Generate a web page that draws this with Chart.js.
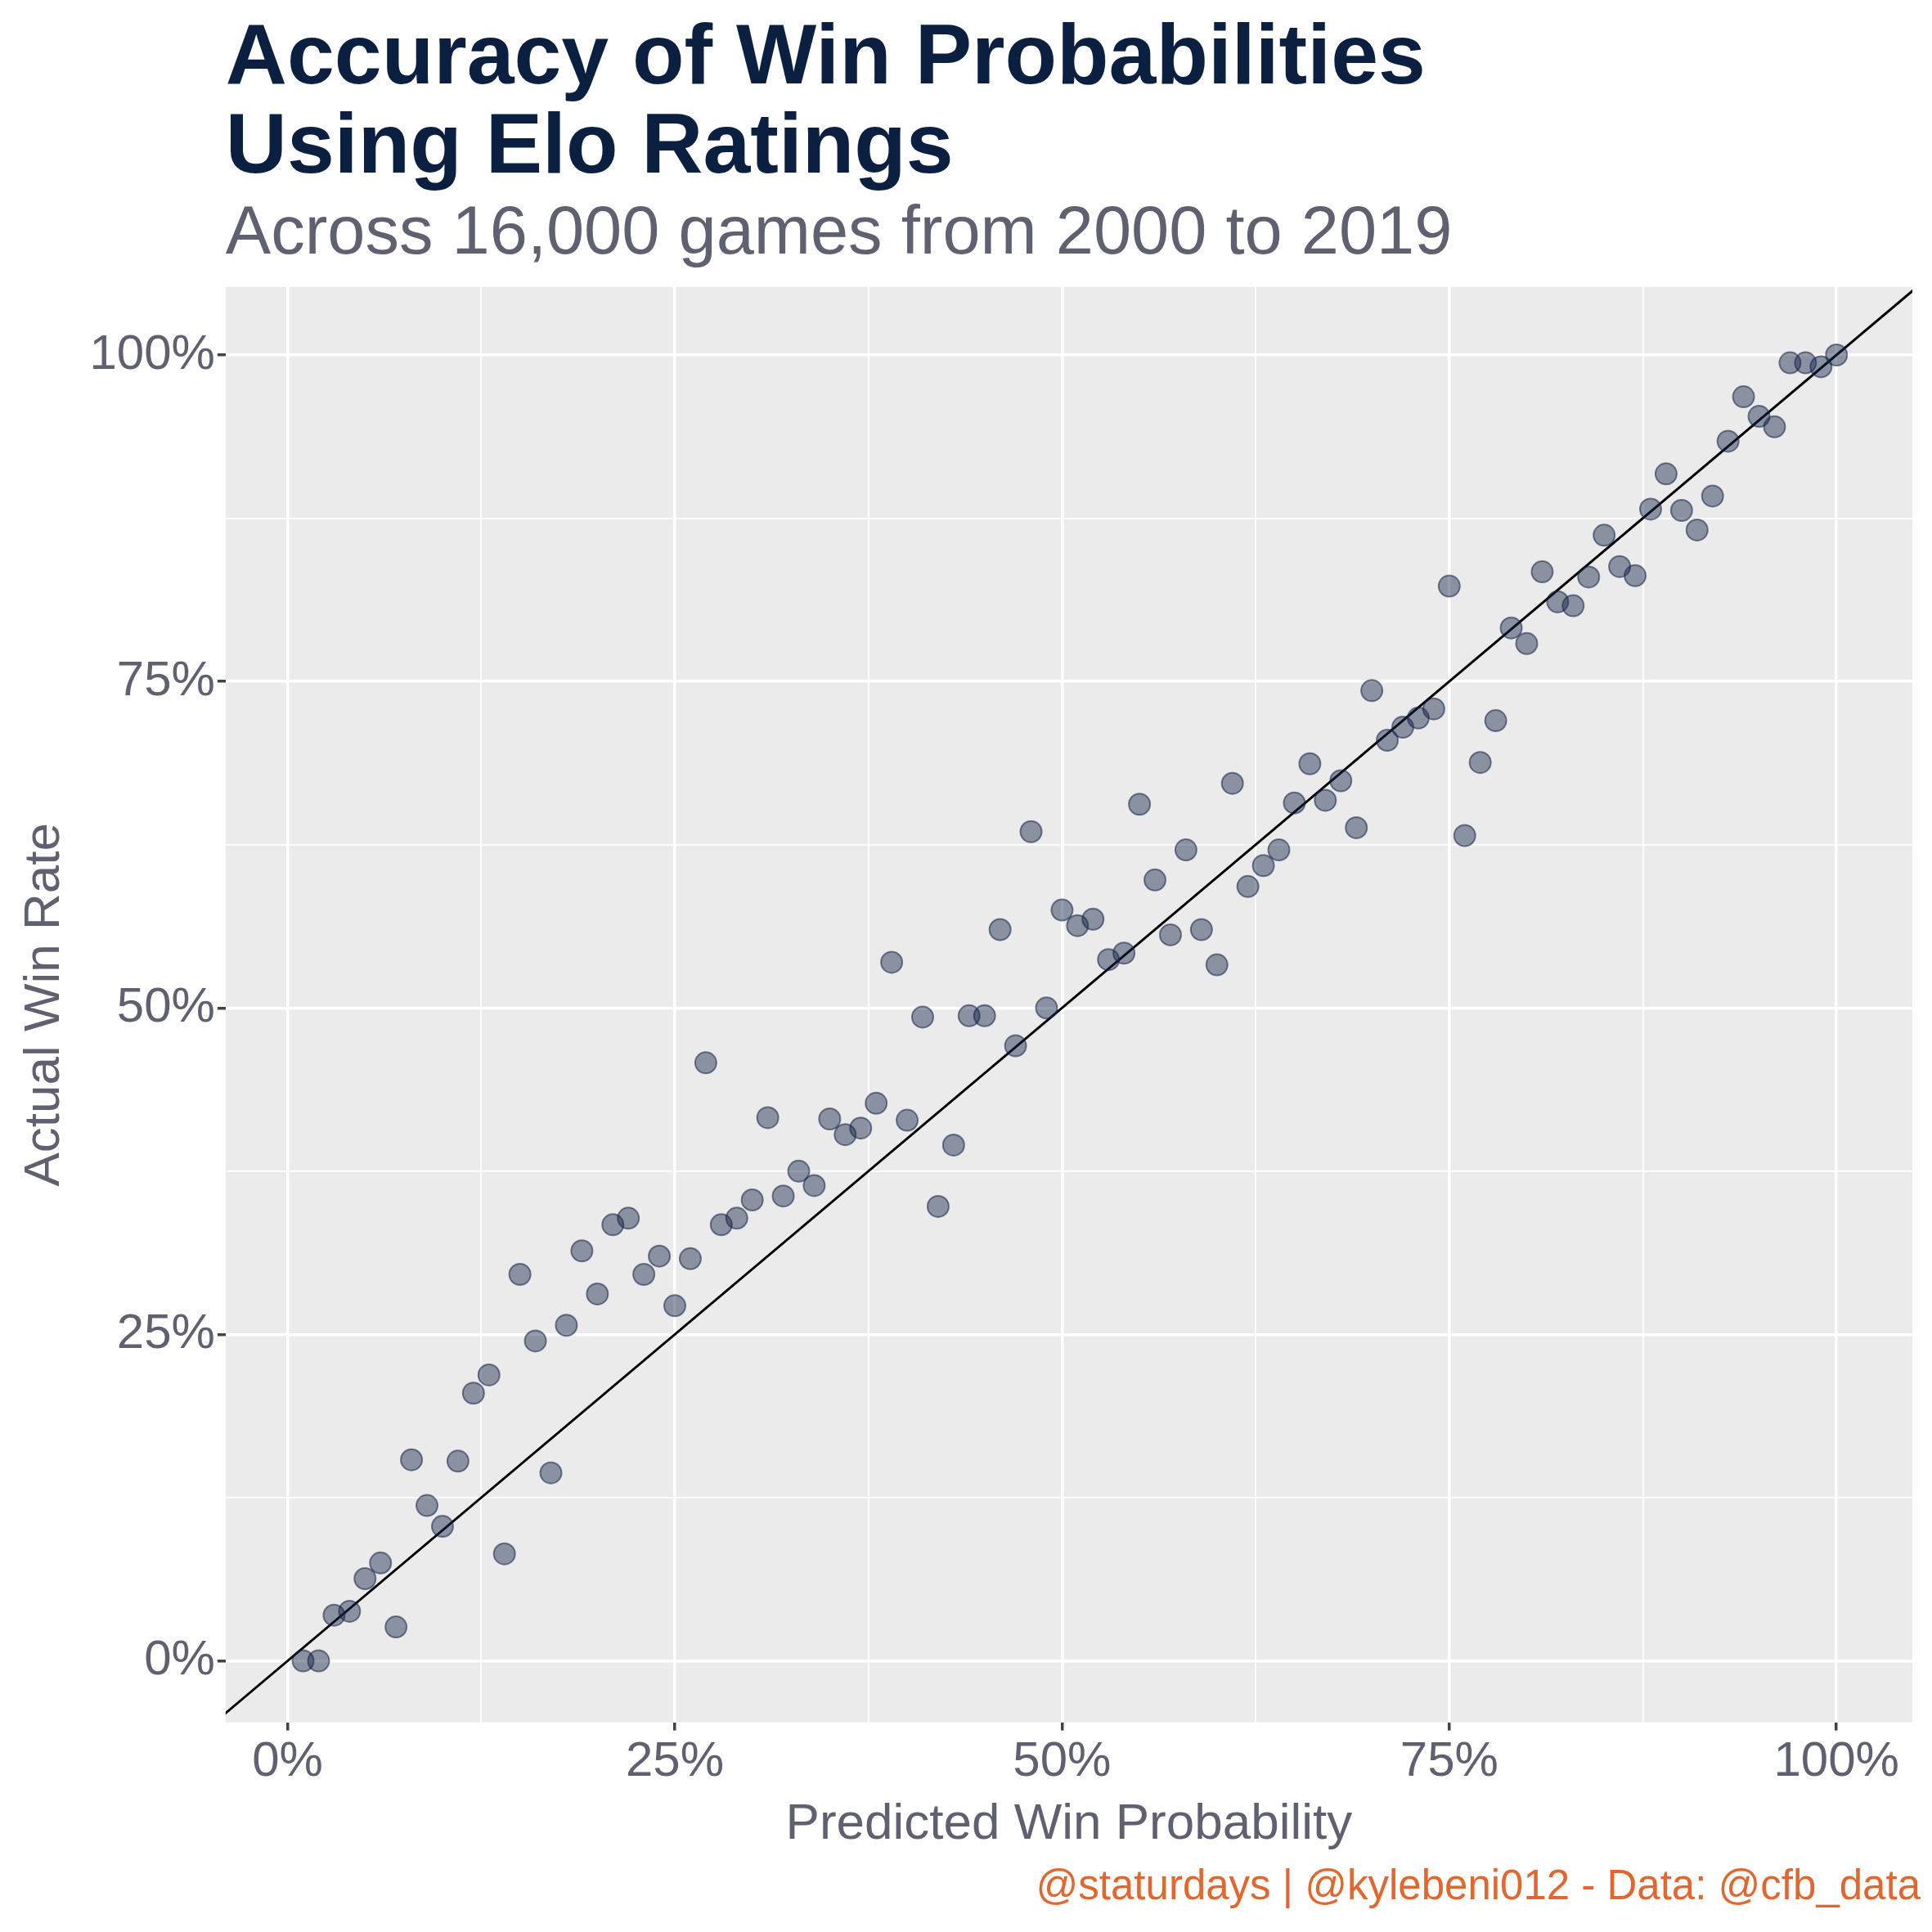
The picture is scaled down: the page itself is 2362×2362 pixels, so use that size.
<!DOCTYPE html>
<html>
<head>
<meta charset="utf-8">
<script src="https://cdn.jsdelivr.net/npm/chart.js@4/dist/chart.umd.min.js"></script>
<style>
  body { margin: 0; background: #fff; }
  #wrap { width: 2362px; height: 2362px; }
</style>
</head>
<body>
<div id="wrap"><canvas id="myChart" width="2362" height="2362"></canvas></div>
<script>
// Predicted win probability (%) and the actual win rate (%)
const predicted = [];
for (let p = 1; p <= 100; p++) predicted.push(p);
const actual = [
  0, 0, 3.5, 3.8, 6.3, 7.5, 2.6, 15.4, 11.9, 10.3,
  15.3, 20.5, 21.9, 8.2, 29.6, 24.5, 14.4, 25.7, 31.4, 28.1,
  33.4, 33.9, 29.6, 31.0, 27.2, 30.8, 45.8, 33.4, 33.9, 35.3,
  41.6, 35.6, 37.5, 36.4, 41.5, 40.3, 40.8, 42.7, 53.5, 41.4,
  49.3, 34.8, 39.5, 49.4, 49.4, 56.0, 47.1, 63.5, 50.0, 57.5,
  56.3, 56.8, 53.7, 54.2, 65.6, 59.8, 55.6, 62.1, 56.0, 53.3,
  67.2, 59.3, 60.9, 62.1, 65.7, 68.7, 65.9, 67.4, 63.8, 74.3,
  70.5, 71.5, 72.2, 72.9, 82.3, 63.2, 68.8, 72.0, 79.1, 77.9,
  83.4, 81.1, 80.8, 83.0, 86.2, 83.8, 83.1, 88.2, 90.9, 88.1,
  86.6, 89.2, 93.4, 96.8, 95.3, 94.5, 99.4, 99.4, 99.1, 100
];
const gridTicks = [0, 12.5, 25, 37.5, 50, 62.5, 75, 87.5, 100];

const titleLines = ['Accuracy of Win Probabilities', 'Using Elo Ratings'];
const subtitleText = 'Across 16,000 games from 2000 to 2019';
const captionText = '@staturdays | @kylebeni012 - Data: @cfb_data';

const FONT = '"Liberation Sans", Arial, sans-serif';
const GREY = '#5f6070';

const panelPlugin = {
  id: 'panel',
  beforeDraw(chart) {
    const {ctx, chartArea: a} = chart;
    ctx.save();
    ctx.fillStyle = '#EBEBEB';
    ctx.fillRect(a.left, a.top, a.right - a.left, a.bottom - a.top);
    ctx.restore();
  },
  afterDraw(chart) {
    const {ctx, chartArea: a} = chart;
    ctx.save();
    ctx.textBaseline = 'alphabetic';
    ctx.textAlign = 'left';
    ctx.fillStyle = '#0b1f40';
    ctx.font = 'bold 104px ' + FONT;
    ctx.fillText(titleLines[0], a.left, 102);
    ctx.fillText(titleLines[1], a.left, 211);
    ctx.fillStyle = GREY;
    ctx.font = '83px ' + FONT;
    ctx.fillText(subtitleText, a.left, 310);
    ctx.textAlign = 'right';
    ctx.fillStyle = '#e0682e';
    ctx.font = '51px ' + FONT;
    ctx.fillText(captionText, chart.width - 14, 2322);
    ctx.restore();
  }
};

const ctx = document.getElementById('myChart');
new Chart(ctx, {
  type: 'scatter',
  data: {
    datasets: [{
      data: predicted.map((p, i) => ({x: p, y: actual[i]})),
      backgroundColor: 'rgba(20, 35, 70, 0.45)',
      borderColor: 'rgba(20, 35, 70, 0.55)',
      borderWidth: 2,
      pointRadius: 13
    },
    {
      type: 'line',
      data: [{x: -10, y: -10}, {x: 110, y: 110}],
      borderColor: '#000',
      borderWidth: 3,
      pointRadius: 0
    }]
  },
  options: {
    responsive: false,
    animation: false,
    devicePixelRatio: 1,
    layout: { padding: { top: 351, left: 14, right: 24, bottom: 90 } },
    plugins: { legend: { display: false }, tooltip: { enabled: false } },
    scales: {
      x: {
        type: 'linear',
        min: -4, max: 104.9,
        afterBuildTicks: s => { s.ticks = gridTicks.map(v => ({value: v})); },
        grid: {
          color: '#ffffff',
          lineWidth: c => (c.tick && c.tick.value % 25 === 0) ? 3.5 : 1.8,
          tickColor: c => (c.tick && c.tick.value % 25 === 0) ? '#444' : 'rgba(0,0,0,0)',
          tickLength: 10
        },
        border: { display: false },
        ticks: {
          autoSkip: false, maxRotation: 0,
          color: GREY, font: { size: 60, family: FONT },
          callback: v => v % 25 === 0 ? v + '%' : ''
        },
        title: { display: true, text: 'Predicted Win Probability', color: GREY,
                 font: { size: 62, family: FONT }, padding: { top: 0 } }
      },
      y: {
        type: 'linear',
        min: -4.7, max: 105.2,
        afterBuildTicks: s => { s.ticks = gridTicks.map(v => ({value: v})); },
        grid: {
          color: '#ffffff',
          lineWidth: c => (c.tick && c.tick.value % 25 === 0) ? 3.5 : 1.8,
          tickColor: c => (c.tick && c.tick.value % 25 === 0) ? '#444' : 'rgba(0,0,0,0)',
          tickLength: 10
        },
        border: { display: false },
        ticks: {
          autoSkip: false,
          color: GREY, font: { size: 60, family: FONT },
          callback: v => v % 25 === 0 ? v + '%' : ''
        },
        title: { display: true, text: 'Actual Win Rate', color: GREY,
                 font: { size: 62, family: FONT }, padding: { bottom: 14 } }
      }
    }
  },
  plugins: [panelPlugin]
});
</script>
</body>
</html>
